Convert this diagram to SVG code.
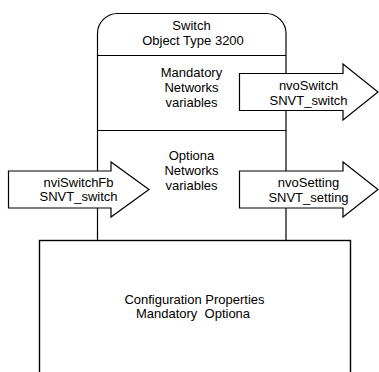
<svg xmlns="http://www.w3.org/2000/svg" width="379" height="372" viewBox="0 0 379 372">
<style>
.ln{fill:#fff;stroke:#000;stroke-width:1.2;stroke-linejoin:miter}
.t{font-family:"Liberation Sans",Arial,sans-serif;font-size:13px;fill:#000;text-anchor:middle;white-space:pre}
</style>
<rect width="379" height="372" fill="#fff"/>
<g id="switch-object">
<path class="ln" d="M97.5,241 V33.5 A20,20 0 0 1 117.5,13.5 H266 A20,20 0 0 1 286,33.5 V241"/>
<path class="ln" fill="none" d="M97.5,55.5 H286 M97.5,130.5 H286"/>
<text class="t" x="191.5" y="29.5">Switch</text>
<text class="t" x="193" y="45">Object Type 3200</text>
<text class="t" x="191.5" y="77">Mandatory</text>
<text class="t" x="191.5" y="92">Networks</text>
<text class="t" x="191.5" y="106.5">variables</text>
<text class="t" x="191.5" y="159.5">Optiona</text>
<text class="t" x="191.5" y="174.5">Networks</text>
<text class="t" x="191.5" y="189.5">variables</text>
</g>
<g id="config-properties">
<rect class="ln" x="39.5" y="240.5" width="311" height="140" style="stroke-width:1.4"/>
<text class="t" x="194.5" y="303.5">Configuration Properties</text>
<text class="t" x="193" y="317.5">Mandatory  Optiona</text>
</g>
<g id="nviSwitchFb">
<path class="ln" d="M8.5,171 H111 V162 L149,189.5 L111,217 V208 H8.5 Z"/>
<text class="t" x="78.5" y="186.5">nviSwitchFb</text>
<text class="t" x="78.5" y="201">SNVT_switch</text>
</g>
<g id="nvoSwitch">
<path class="ln" d="M239.5,73.5 H343 V64 L378,92 L343,120 V110.5 H239.5 Z"/>
<text class="t" x="308.5" y="89.5">nvoSwitch</text>
<text class="t" x="308.5" y="104.5">SNVT_switch</text>
</g>
<g id="nvoSetting">
<path class="ln" d="M239.5,171 H343 V162 L378,189.5 L343,217 V208 H239.5 Z"/>
<text class="t" x="308.5" y="186.5">nvoSetting</text>
<text class="t" x="308.5" y="201.5">SNVT_setting</text>
</g>
<g id="connectors"/>
</svg>
